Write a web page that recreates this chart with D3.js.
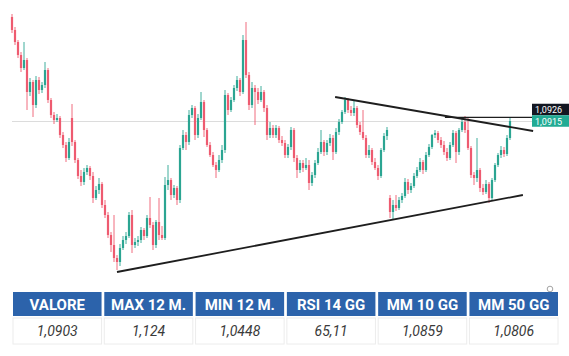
<!DOCTYPE html>
<html>
<head>
<meta charset="utf-8">
<script src="https://cdn.jsdelivr.net/npm/d3@7"></script>
<style>
body { margin: 0; background: #fff; }
</style>
</head>
<body>
<svg class="chart" width="569" height="356"></svg>
<script>
// daily candles, EUR/USD style prices
var opens = [1.1227,1.1188,1.1152,1.1113,1.1074,1.1098,1.1002,1.1032,1.0963,1.1038,
1.1008,1.1023,1.1068,1.0978,1.0933,1.0918,1.0924,1.0873,1.0843,1.0804,
1.0924,1.0852,1.0798,1.0750,1.0732,1.0762,1.0774,1.0750,1.0684,1.0708,
1.0726,1.0663,1.0633,1.0573,1.0543,1.0504,1.0492,1.0534,1.0558,1.0570,
1.0633,1.0543,1.0552,1.0558,1.0588,1.0570,1.0624,1.0603,1.0543,1.0612,
1.0573,1.0564,1.0723,1.0738,1.0693,1.0714,1.0678,1.0834,1.0873,1.0852,
1.0933,1.0954,1.0873,1.0924,1.0972,1.0888,1.0843,1.0813,1.0783,1.0768,
1.0798,1.0828,1.0993,1.0948,1.0978,1.1014,1.1038,1.1002,1.1158,1.1053,
1.0963,1.1014,1.1002,1.0978,1.1002,1.0954,1.0873,1.0894,1.0873,1.0894,
1.0858,1.0849,1.0813,1.0837,1.0888,1.0804,1.0768,1.0789,1.0774,1.0783,
1.0729,1.0753,1.0789,1.0822,1.0852,1.0822,1.0849,1.0864,1.0822,1.0882,
1.0912,1.0942,1.0978,1.0948,1.0939,1.0954,1.0903,1.0882,1.0864,1.0813,
1.0828,1.0792,1.0774,1.0750,1.0828,1.0870,1.0684,1.0642,1.0663,1.0654,
1.0678,1.0690,1.0732,1.0708,1.0720,1.0750,1.0768,1.0792,1.0768,1.0813,
1.0837,1.0873,1.0879,1.0858,1.0843,1.0822,1.0804,1.0843,1.0879,1.0822,
1.0888,1.0912,1.0888,1.0834,1.0753,1.0744,1.0768,1.0714,1.0702,1.0726,
1.0684,1.0738,1.0783,1.0813,1.0828,1.0816,1.0864];

var highs = [1.1236,1.1197,1.1158,1.1122,1.1152,1.1104,1.1044,1.1038,1.1050,1.1047,
1.1032,1.1092,1.1074,1.0984,1.0942,1.0936,1.0930,1.0882,1.0852,1.0864,
1.0966,1.0858,1.0804,1.0768,1.0774,1.0783,1.0780,1.0762,1.0720,1.0744,
1.0732,1.0678,1.0642,1.0582,1.0633,1.0513,1.0546,1.0570,1.0582,1.0642,
1.0648,1.0564,1.0570,1.0597,1.0594,1.0633,1.0687,1.0612,1.0618,1.0684,
1.0600,1.0747,1.0783,1.0744,1.0723,1.0720,1.0843,1.0888,1.0882,1.0948,
1.0963,1.0960,1.0936,1.1002,1.0978,1.0894,1.0852,1.0822,1.0792,1.0813,
1.0843,1.1008,1.0999,1.0987,1.1023,1.1050,1.1044,1.1173,1.1212,1.1062,
1.1032,1.1023,1.1014,1.1020,1.1008,1.0963,1.0912,1.0903,1.0903,1.0900,
1.0870,1.0858,1.0846,1.0897,1.0894,1.0813,1.0798,1.0798,1.0804,1.0798,
1.0762,1.0798,1.0834,1.0888,1.0858,1.0858,1.0876,1.0873,1.0894,1.0921,
1.0948,1.0987,1.0984,1.0960,1.0978,1.0960,1.0912,1.0948,1.0873,1.0843,
1.0834,1.0804,1.0783,1.0834,1.0879,1.0897,1.0693,1.0678,1.0693,1.0687,
1.0699,1.0744,1.0741,1.0729,1.0759,1.0777,1.0804,1.0798,1.0822,1.0846,
1.0876,1.0888,1.0885,1.0867,1.0855,1.0834,1.0852,1.0888,1.0885,1.0894,
1.0921,1.0930,1.0924,1.0840,1.0762,1.0864,1.0774,1.0726,1.0738,1.0732,
1.0744,1.0789,1.0819,1.0840,1.0837,1.0873,1.0927];

var lows = [1.1179,1.1143,1.1104,1.1062,1.1068,1.0948,1.0990,1.0927,1.0954,1.0996,
1.0999,1.1014,1.0969,1.0924,1.0906,1.0912,1.0864,1.0834,1.0792,1.0798,
1.0840,1.0789,1.0741,1.0720,1.0723,1.0753,1.0738,1.0669,1.0678,1.0696,
1.0654,1.0624,1.0564,1.0522,1.0492,1.0468,1.0480,1.0528,1.0546,1.0564,
1.0519,1.0534,1.0540,1.0549,1.0558,1.0564,1.0594,1.0528,1.0534,1.0558,
1.0558,1.0558,1.0708,1.0678,1.0684,1.0663,1.0669,1.0828,1.0828,1.0843,
1.0924,1.0858,1.0864,1.0918,1.0867,1.0837,1.0807,1.0777,1.0744,1.0762,
1.0789,1.0819,1.0933,1.0942,1.0972,1.1005,1.0990,1.0996,1.1044,1.0948,
1.0954,1.0903,1.0966,1.0972,1.0942,1.0858,1.0864,1.0864,1.0864,1.0849,
1.0840,1.0804,1.0804,1.0828,1.0792,1.0744,1.0759,1.0762,1.0768,1.0708,
1.0720,1.0744,1.0783,1.0816,1.0810,1.0813,1.0840,1.0798,1.0816,1.0873,
1.0906,1.0936,1.0939,1.0930,1.0930,1.0894,1.0873,1.0858,1.0804,1.0804,
1.0783,1.0768,1.0738,1.0744,1.0822,1.0858,1.0624,1.0618,1.0645,1.0648,
1.0669,1.0684,1.0696,1.0699,1.0714,1.0744,1.0762,1.0756,1.0762,1.0807,
1.0831,1.0864,1.0849,1.0834,1.0813,1.0795,1.0798,1.0837,1.0789,1.0813,
1.0882,1.0879,1.0828,1.0744,1.0723,1.0732,1.0702,1.0693,1.0696,1.0669,
1.0678,1.0732,1.0777,1.0804,1.0807,1.0810,1.0858];

var closes = [1.1188,1.1152,1.1113,1.1074,1.1098,1.1002,1.1032,1.0963,1.1038,1.1008,
1.1023,1.1068,1.0978,1.0933,1.0918,1.0924,1.0873,1.0843,1.0804,1.0852,
1.0852,1.0798,1.0750,1.0732,1.0762,1.0774,1.0750,1.0684,1.0708,1.0726,
1.0663,1.0633,1.0573,1.0543,1.0504,1.0492,1.0534,1.0558,1.0570,1.0633,
1.0543,1.0552,1.0558,1.0588,1.0570,1.0624,1.0603,1.0543,1.0612,1.0573,
1.0564,1.0723,1.0738,1.0693,1.0714,1.0678,1.0834,1.0873,1.0852,1.0933,
1.0954,1.0873,1.0924,1.0972,1.0888,1.0843,1.0813,1.0783,1.0768,1.0798,
1.0828,1.0993,1.0948,1.0978,1.1014,1.1038,1.1002,1.1158,1.1053,1.0963,
1.1014,1.1002,1.0978,1.1002,1.0954,1.0873,1.0894,1.0873,1.0894,1.0858,
1.0849,1.0813,1.0837,1.0888,1.0804,1.0768,1.0789,1.0774,1.0783,1.0729,
1.0753,1.0789,1.0822,1.0852,1.0822,1.0849,1.0864,1.0822,1.0882,1.0912,
1.0942,1.0978,1.0948,1.0939,1.0954,1.0903,1.0882,1.0864,1.0813,1.0828,
1.0792,1.0774,1.0750,1.0828,1.0870,1.0888,1.0642,1.0663,1.0654,1.0678,
1.0690,1.0732,1.0708,1.0720,1.0750,1.0768,1.0792,1.0768,1.0813,1.0837,
1.0873,1.0879,1.0858,1.0843,1.0822,1.0804,1.0843,1.0879,1.0822,1.0888,
1.0912,1.0888,1.0834,1.0753,1.0744,1.0768,1.0714,1.0702,1.0726,1.0684,
1.0738,1.0783,1.0813,1.0828,1.0816,1.0864,1.0915];

// trend lines drawn on the chart: [candle index, price]
var upperLine = [[107.7, 1.0987], [173.7, 1.0885]];
var lowerLine = [[35, 1.0462], [170.3, 1.0693]];
var levelLine = [[144.3, 1.0926], [173.7, 1.0926]];

var levelPrice = 1.0926;
var lastPrice = 1.0915;

var tableHeaders = ["VALORE", "MAX 12 M.", "MIN 12 M.", "RSI 14 GG", "MM 10 GG", "MM 50 GG"];
var tableValues = ["1,0903", "1,124", "1,0448", "65,11", "1,0859", "1,0806"];

var upColor = "#2ba592";
var downColor = "#ee5b70";

var svg = d3.select(".chart");

var x = d3.scaleLinear().domain([0, closes.length - 1]).range([12, 510]);
var y = d3.scaleLinear().domain([1.0462, 1.1278]).range([272, 0]);

var itLocale = d3.formatLocale({decimal: ",", thousands: ".", grouping: [3], currency: ["", "€"]});
var fmt = itLocale.format(".4f");

var candles = closes.map(function(c, i) {
  return {i: i, o: opens[i], h: highs[i], l: lows[i], c: c};
});

// last price line
svg.append("line")
  .attr("x1", x(0))
  .attr("x2", 532)
  .attr("y1", y(lastPrice) + 0.5)
  .attr("y2", y(lastPrice) + 0.5)
  .attr("stroke", "#dcdcdc")
  .attr("stroke-width", 1);

var candle = svg.append("g").selectAll("g")
  .data(candles)
  .enter()
  .append("g");

candle.append("line")
  .attr("x1", function(d) { return x(d.i); })
  .attr("x2", function(d) { return x(d.i); })
  .attr("y1", function(d) { return y(d.h); })
  .attr("y2", function(d) { return y(d.l); })
  .attr("stroke", function(d) { return d.c >= d.o ? upColor : downColor; })
  .attr("stroke-width", 0.9);

candle.append("rect")
  .attr("x", function(d) { return x(d.i) - 1.1; })
  .attr("width", 2.2)
  .attr("y", function(d) { return y(Math.max(d.o, d.c)); })
  .attr("height", function(d) { return Math.max(1, Math.abs(y(d.o) - y(d.c))); })
  .attr("fill", function(d) { return d.c >= d.o ? upColor : downColor; });

// trend lines
var line = d3.line()
  .x(function(d) { return x(d[0]); })
  .y(function(d) { return y(d[1]); });

svg.selectAll(".trend")
  .data([upperLine, lowerLine])
  .enter()
  .append("path")
  .attr("class", "trend")
  .attr("d", line)
  .attr("fill", "none")
  .attr("stroke", "#1e1e1e")
  .attr("stroke-width", 1.8);

svg.append("path")
  .attr("d", line(levelLine))
  .attr("fill", "none")
  .attr("stroke", "#1e1e1e")
  .attr("stroke-width", 1.4);

// price labels on the right
var boxH = 11.5;
var lastY = y(lastPrice);
var levelY = Math.min(y(levelPrice), lastY - boxH);
var labels = [
  {v: levelPrice, cy: levelY, bg: "#131722"},
  {v: lastPrice, cy: lastY, bg: "#22ab94"}
];

var lab = svg.selectAll(".plabel")
  .data(labels)
  .enter()
  .append("g")
  .attr("class", "plabel");

lab.append("rect")
  .attr("x", 532)
  .attr("y", function(d) { return d.cy - boxH / 2; })
  .attr("width", 37)
  .attr("height", boxH)
  .attr("fill", function(d) { return d.bg; });

lab.append("text")
  .text(function(d) { return fmt(d.v); })
  .attr("x", 535)
  .attr("y", function(d) { return d.cy + 3.5; })
  .attr("font-family", "Roboto, sans-serif")
  .attr("font-size", "9px")
  .attr("fill", "white");

// small icon above the table
svg.append("circle")
  .attr("cx", 550)
  .attr("cy", 289)
  .attr("r", 2.8)
  .attr("fill", "none")
  .attr("stroke", "#9a9a9a")
  .attr("stroke-width", 0.9);

// table
var col = d3.scaleBand()
  .domain(tableHeaders)
  .range([13, 558])
  .paddingInner(0.03);

var head = svg.append("g").selectAll("g")
  .data(tableHeaders)
  .enter()
  .append("g");

head.append("rect")
  .attr("x", function(d) { return col(d); })
  .attr("y", 292)
  .attr("width", col.bandwidth())
  .attr("height", 24)
  .attr("fill", "#2c63ab");

head.append("text")
  .text(function(d) { return d; })
  .attr("x", function(d) { return col(d) + col.bandwidth() / 2; })
  .attr("y", 309.5)
  .attr("text-anchor", "middle")
  .attr("font-family", "Roboto, sans-serif")
  .attr("font-weight", "bold")
  .attr("font-size", "15px")
  .attr("fill", "white");

var cells = svg.append("g").selectAll("g")
  .data(tableValues)
  .enter()
  .append("g");

cells.append("rect")
  .attr("x", function(d, i) { return col(tableHeaders[i]); })
  .attr("y", 318)
  .attr("width", col.bandwidth())
  .attr("height", 26)
  .attr("fill", "#fff")
  .attr("stroke", "#ececec");

cells.append("text")
  .text(function(d) { return d; })
  .attr("x", function(d, i) { return col(tableHeaders[i]) + col.bandwidth() / 2; })
  .attr("y", 336)
  .attr("text-anchor", "middle")
  .attr("font-family", "Roboto, sans-serif")
  .attr("font-style", "italic")
  .attr("font-size", "14px")
  .attr("fill", "#3a3a3a");
</script>
</body>
</html>
